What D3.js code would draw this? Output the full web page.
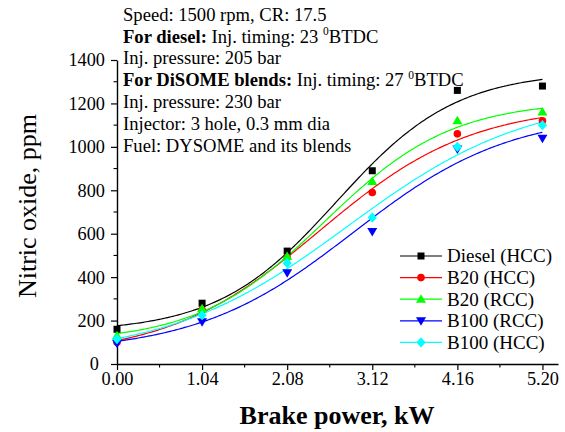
<!DOCTYPE html>
<html>
<head>
<meta charset="utf-8">
<script src="https://cdn.jsdelivr.net/npm/d3@7/dist/d3.min.js"></script>
<style>
  html, body { margin: 0; padding: 0; background: #fff; }
  svg { display: block; font-family: "Liberation Serif", "Times New Roman", serif; }
</style>
</head>
<body>
<svg id="chart" width="565" height="432"></svg>
<script>
// Brake power (kW) at each load step
const brakePower = [0.00, 1.04, 2.08, 3.12, 4.16, 5.20];
const xTickLabels = ["0.00", "1.04", "2.08", "3.12", "4.16", "5.20"];
const yTicks = [0, 200, 400, 600, 800, 1000, 1200, 1400];

// Nitric oxide emissions (ppm) for each fuel / combustion chamber
const seriesNames = ["Diesel (HCC)", "B20 (HCC)", "B20 (RCC)", "B100 (RCC)", "B100 (HCC)"];
const dieselHCC = [160, 280, 520, 890, 1260, 1280];
const b20HCC    = [100, 250, 490, 790, 1060, 1120];
const b20RCC    = [130, 255, 495, 840, 1120, 1160];
const b100RCC   = [95, 195, 420, 610, 990, 1040];
const b100HCC   = [115, 225, 465, 675, 1000, 1100];
const seriesValues = [dieselHCC, b20HCC, b20RCC, b100RCC, b100HCC];
const seriesColors = ["#000000", "#ff0000", "#00ff00", "#0000ff", "#00ffff"];
const seriesSymbols = ["square", "circle", "triangleUp", "triangleDown", "diamond"];

const annotation = [
  [{ t: "Speed: 1500 rpm, CR: 17.5" }],
  [{ t: "For diesel:", b: true }, { t: " Inj. timing: 23 " }, { t: "0", sup: true }, { t: "BTDC" }],
  [{ t: "Inj. pressure: 205 bar" }],
  [{ t: "For DiSOME blends:", b: true }, { t: " Inj. timing: 27 " }, { t: "0", sup: true }, { t: "BTDC" }],
  [{ t: "Inj. pressure: 230 bar" }],
  [{ t: "Injector: 3 hole, 0.3 mm dia" }],
  [{ t: "Fuel: DYSOME and its blends" }]
];

const svg = d3.select("#chart");
const x = d3.scaleLinear().domain([0, 5.39]).range([117, 558]);
const y = d3.scaleLinear().domain([0, 1400]).range([364, 60]);

// Boltzmann sigmoid fitted to each series by Nelder-Mead least squares
function boltzmann(p, xv) { return p[1] + (p[0] - p[1]) / (1 + Math.exp((xv - p[2]) / p[3])); }
function fitBoltzmann(xs, ys) {
  const sse = p => {
    if (Math.abs(p[3]) < 0.05) return 1e12;
    let s = 0;
    xs.forEach((xv, i) => { const d = boltzmann(p, xv) - ys[i]; s += d * d; });
    return s;
  };
  const n = 4;
  const start = [d3.min(ys) - 50, d3.max(ys) + 20, 2.8, 0.8];
  const steps = [60, 60, 0.4, 0.2];
  let simplex = [start];
  for (let i = 0; i < n; i++) { const p = start.slice(); p[i] += steps[i]; simplex.push(p); }
  let vals = simplex.map(sse);
  for (let it = 0; it < 4000; it++) {
    const order = d3.range(n + 1).sort((a, b) => vals[a] - vals[b]);
    simplex = order.map(i => simplex[i]); vals = order.map(i => vals[i]);
    const c = d3.range(n).map(j => d3.mean(simplex.slice(0, n), p => p[j]));
    const worst = simplex[n];
    const refl = c.map((v, j) => v + (v - worst[j]));
    const fr = sse(refl);
    if (fr < vals[0]) {
      const exp = c.map((v, j) => v + 2 * (v - worst[j]));
      const fe = sse(exp);
      if (fe < fr) { simplex[n] = exp; vals[n] = fe; } else { simplex[n] = refl; vals[n] = fr; }
    } else if (fr < vals[n - 1]) {
      simplex[n] = refl; vals[n] = fr;
    } else {
      const con = c.map((v, j) => v + 0.5 * (worst[j] - v));
      const fc = sse(con);
      if (fc < vals[n]) { simplex[n] = con; vals[n] = fc; }
      else {
        for (let i = 1; i <= n; i++) {
          simplex[i] = simplex[i].map((v, j) => simplex[0][j] + 0.5 * (v - simplex[0][j]));
          vals[i] = sse(simplex[i]);
        }
      }
    }
  }
  return simplex[d3.scan(vals)];
}

function symbolPath(kind) {
  switch (kind) {
    case "square": return "M-3.5,-3.5H3.5V3.5H-3.5Z";
    case "circle": return d3.symbol(d3.symbolCircle, Math.PI * 3.8 * 3.8)();
    case "triangleUp": return "M0,-5L5,3.5L-5,3.5Z";
    case "triangleDown": return "M0,5L5,-3.5L-5,-3.5Z";
    case "diamond": return "M0,-5.2L4.6,0L0,5.2L-4.6,0Z";
  }
}

// Axes
const xAxis = d3.axisBottom(x).tickValues(brakePower).tickFormat((d, i) => xTickLabels[i])
  .tickSize(6).tickPadding(2).tickSizeOuter(0);
const yAxis = d3.axisLeft(y).tickValues(yTicks).tickFormat(d3.format("d"))
  .tickSize(6).tickPadding(6).tickSizeOuter(0);

const gx = svg.append("g").attr("transform", "translate(0,364)").call(xAxis);
const gy = svg.append("g").attr("transform", "translate(117,0)").call(yAxis);
[gx, gy].forEach(g => {
  g.select(".domain").attr("stroke", "#000").attr("stroke-width", 1.4);
  g.selectAll(".tick line").attr("stroke", "#000").attr("stroke-width", 1.2);
  g.selectAll(".tick text").attr("font-family", "Liberation Serif").attr("font-size", 18.3).attr("fill", "#000");
});
gy.selectAll(".tick text").attr("dy", "0.32em");
// keep the origin label clear of the first x label
gy.selectAll(".tick text").filter(d => d === 0).attr("x", -18);

// Minor ticks
const xMinor = brakePower.slice(0, -1).map((d, i) => (d + brakePower[i + 1]) / 2);
svg.append("g").selectAll("line").data(xMinor).join("line")
  .attr("x1", d => x(d)).attr("x2", d => x(d)).attr("y1", 364).attr("y2", 367.5)
  .attr("stroke", "#000").attr("stroke-width", 1.1);
const yMinor = yTicks.slice(0, -1).map(d => d + 100);
svg.append("g").selectAll("line").data(yMinor).join("line")
  .attr("x1", 117).attr("x2", 113.5).attr("y1", d => y(d)).attr("y2", d => y(d))
  .attr("stroke", "#000").attr("stroke-width", 1.1);

// Fitted curves
const fits = seriesValues.map(vals => fitBoltzmann(brakePower, vals));
const curveXs = d3.range(0, 5.2001, 0.02);
const line = d3.line().x(d => x(d[0])).y(d => y(d[1]));
fits.forEach((p, i) => {
  svg.append("path")
    .attr("d", line(curveXs.map(xv => [xv, boltzmann(p, xv)])))
    .attr("fill", "none").attr("stroke", seriesColors[i]).attr("stroke-width", 1.2);
});

// Data markers
seriesValues.forEach((vals, i) => {
  svg.append("g").selectAll("path").data(vals).join("path")
    .attr("d", symbolPath(seriesSymbols[i]))
    .attr("transform", (d, j) => `translate(${x(brakePower[j])},${y(d)})`)
    .attr("fill", seriesColors[i]);
});

// Test conditions
const ann = svg.append("text").attr("font-family", "Liberation Serif").attr("font-size", 18.6).attr("fill", "#000");
annotation.forEach((parts, r) => {
  const row = ann.append("tspan").attr("x", 123).attr("y", 20.7 + r * 21.8);
  parts.forEach((p, k) => {
    const ts = (k === 0) ? row : ann.append("tspan");
    ts.text(p.t);
    if (p.b) ts.attr("font-weight", "bold");
    if (p.sup) ts.attr("font-size", 11.5).attr("dy", -7.5);
    if (k > 0 && parts[k - 1].sup) ts.attr("dy", 7.5);
  });
});

// Legend
const legend = svg.append("g");
seriesNames.forEach((name, i) => {
  const ly = 256 + i * 21.6;
  legend.append("line").attr("x1", 400).attr("x2", 442).attr("y1", ly).attr("y2", ly)
    .attr("stroke", seriesColors[i]).attr("stroke-width", 1.2);
  legend.append("path").attr("d", symbolPath(seriesSymbols[i]))
    .attr("transform", `translate(421,${ly})`).attr("fill", seriesColors[i]);
  legend.append("text").attr("x", 447).attr("y", ly).attr("dy", "0.34em")
    .attr("font-family", "Liberation Serif").attr("font-size", 19).text(name);
});

// Axis titles
svg.append("text").attr("transform", "translate(36,206) rotate(-90)")
  .attr("text-anchor", "middle").attr("font-family", "Liberation Serif").attr("font-size", 26)
  .text("Nitric oxide, ppm");
svg.append("text").attr("x", 337).attr("y", 424).attr("text-anchor", "middle")
  .attr("font-family", "Liberation Serif").attr("font-size", 26).attr("font-weight", "bold")
  .text("Brake power, kW");
</script>
</body>
</html>
